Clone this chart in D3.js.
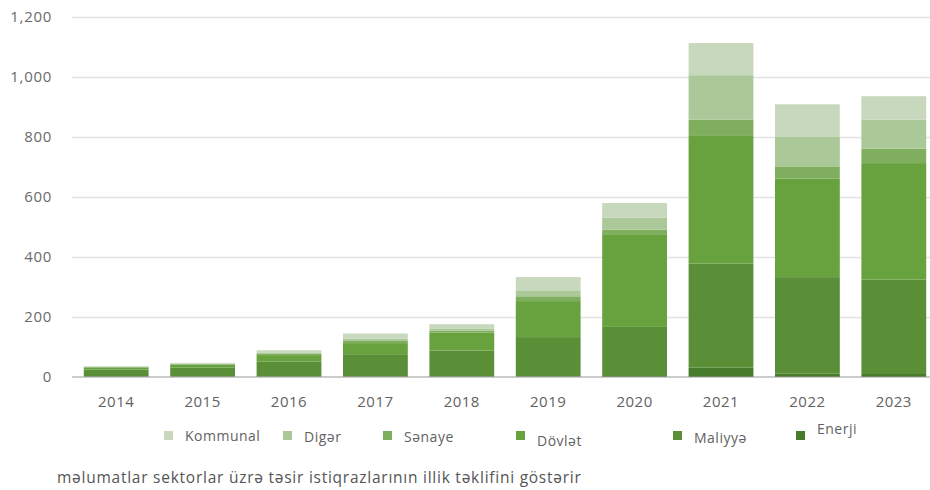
<!DOCTYPE html>
<html>
<head>
<meta charset="utf-8">
<script src="https://cdn.jsdelivr.net/npm/d3@7"></script>
<style>
  html, body { margin: 0; padding: 0; background: #ffffff; }
  svg { display: block; font-family: "Open Sans", "DejaVu Sans", sans-serif; }
</style>
</head>
<body>
<svg id="chart" width="930" height="490"></svg>
<script>
// Annual issuance by sector
const years = ["2014", "2015", "2016", "2017", "2018", "2019", "2020", "2021", "2022", "2023"];
const enerji   = [1, 1, 1, 2, 2, 2, 3, 31, 12, 10];
const maliyye  = [24, 30, 50, 74, 86, 131, 164, 347, 321, 315];
const dovlet   = [7, 10, 22, 37, 60, 120, 309, 428, 328, 388];
const senaye   = [1, 2, 4, 7, 6, 16, 15, 52, 41, 48];
const diger    = [1, 2, 5, 8, 8, 20, 40, 148, 98, 97];
const kommunal = [2, 2, 7, 17, 14, 44, 49, 107, 109, 78];

// stacking order, bottom to top
const seriesKeys = ["Enerji", "Maliyyə", "Dövlət", "Sənaye", "Digər", "Kommunal"];
const seriesValues = [enerji, maliyye, dovlet, senaye, diger, kommunal];
const yTicks = [0, 200, 400, 600, 800, 1000, 1200];
const legendOrder = ["Kommunal", "Digər", "Sənaye", "Dövlət", "Maliyyə", "Enerji"];
const footnote = "məlumatlar sektorlar üzrə təsir istiqrazlarının illik təklifini göstərir";

const colors = {
  "Enerji":   "#477c2b",
  "Maliyyə":  "#5b8f37",
  "Dövlət":   "#67a23e",
  "Sənaye":   "#7fae5e",
  "Digər":    "#aac898",
  "Kommunal": "#c8d8bd"
};

const table = years.map((yr, i) => {
  const row = { year: yr };
  seriesKeys.forEach((k, j) => { row[k] = seriesValues[j][i]; });
  return row;
});

const svg = d3.select("#chart");
const plot = { left: 72, right: 930, top: 17, bottom: 377 };

const x = d3.scaleBand()
  .domain(years)
  .range([73, 937])
  .paddingInner(0.25)
  .paddingOuter(0.125);

const y = d3.scaleLinear()
  .domain([0, 1200])
  .range([plot.bottom, plot.top]);

// gridlines and y labels
const yAxis = svg.append("g")
  .attr("transform", `translate(${plot.left},0)`)
  .call(d3.axisLeft(y).tickValues(yTicks).tickSize(-(plot.right - plot.left)).tickFormat(d3.format(",")).tickPadding(20));
yAxis.select(".domain").remove();
yAxis.selectAll(".tick line")
  .attr("stroke", d => d === 0 ? "none" : "#e3e3e3")
  .attr("stroke-width", 1.6);
yAxis.selectAll(".tick text")
  .attr("fill", "#6a6a6a")
  .attr("font-size", 15)
  .attr("letter-spacing", 0.7)
  .attr("font-family", "'Open Sans', sans-serif");

// stacked bars
const stack = d3.stack().keys(seriesKeys);
const layers = stack(table);

svg.append("g")
  .selectAll("g")
  .data(layers)
  .join("g")
  .attr("fill", d => colors[d.key])
  .selectAll("rect")
  .data(d => d)
  .join("rect")
  .attr("x", d => x(d.data.year))
  .attr("width", x.bandwidth())
  .attr("y", d => y(d[1]))
  .attr("height", d => y(d[0]) - y(d[1]));

// baseline
svg.append("line")
  .attr("x1", plot.left).attr("x2", plot.right)
  .attr("y1", y(0)).attr("y2", y(0))
  .attr("stroke", "#9a9a9a")
  .attr("stroke-width", 1.2);

// x axis labels
const xAxis = svg.append("g")
  .attr("transform", `translate(0,${y(0)})`)
  .call(d3.axisBottom(x).tickSize(0).tickPadding(19));
xAxis.select(".domain").remove();
xAxis.selectAll(".tick text")
  .attr("fill", "#626262")
  .attr("font-size", 15)
  .attr("letter-spacing", 0.5)
  .attr("font-family", "'Open Sans', sans-serif");

// legend
const legendPos = {
  "Kommunal": { x: 164, ty: 441 },
  "Digər":    { x: 283, ty: 442 },
  "Sənaye":   { x: 383, ty: 442 },
  "Dövlət":   { x: 516, ty: 446 },
  "Maliyyə":  { x: 673, ty: 443 },
  "Enerji":   { x: 796, ty: 434 }
};
const legend = svg.append("g").attr("font-family", "'Open Sans', sans-serif");
legendOrder.forEach(k => {
  const p = legendPos[k];
  legend.append("rect")
    .attr("x", p.x).attr("y", 431)
    .attr("width", 9).attr("height", 9)
    .attr("fill", colors[k]);
  legend.append("text")
    .attr("x", p.x + 21).attr("y", p.ty)
    .attr("font-size", 14)
    .attr("letter-spacing", 0.5)
    .attr("fill", "#626262")
    .text(k);
});

// footnote
svg.append("text")
  .attr("x", 57).attr("y", 483)
  .attr("font-size", 15.5)
  .attr("letter-spacing", 0.75)
  .attr("fill", "#555555")
  .attr("font-family", "'Open Sans', sans-serif")
  .text(footnote);
</script>
</body>
</html>
